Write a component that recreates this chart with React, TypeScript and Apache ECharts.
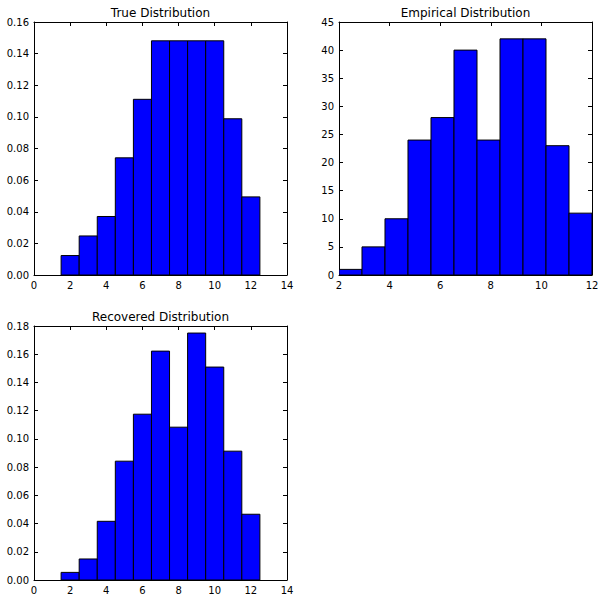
import React, { useEffect, useRef } from "react";
import * as echarts from "echarts";

// True distribution: bins centred on 2..12, width 1
const trueCenters = [2, 3, 4, 5, 6, 7, 8, 9, 10, 11, 12];
const trueValues = [0.0123, 0.0247, 0.037, 0.0741, 0.1111, 0.1481, 0.1481, 0.1481, 0.1481, 0.0988, 0.0494];

// Empirical distribution: 11 bins between 2 and 12
const empiricalEdges = [2, 2.909, 3.818, 4.727, 5.636, 6.545, 7.455, 8.364, 9.273, 10.182, 11.091, 12];
const empiricalCounts = [1, 5, 10, 24, 28, 40, 24, 42, 42, 23, 11];

// Recovered distribution: bins centred on 2..12, width 1
const recoveredCenters = [2, 3, 4, 5, 6, 7, 8, 9, 10, 11, 12];
const recoveredValues = [0.0054, 0.0149, 0.0416, 0.0842, 0.1175, 0.1622, 0.1083, 0.175, 0.1509, 0.0913, 0.0466];

const titles = ["True Distribution", "Empirical Distribution", "Recovered Distribution"];

const FONT = "DejaVu Sans";

function centeredBins(centers: number[], values: number[]) {
  return centers.map((c, i) => [c - 0.5, c + 0.5, values[i]]);
}
function edgeBins(edges: number[], values: number[]) {
  return values.map((v, i) => [edges[i], edges[i + 1], v]);
}

const renderBar = (params: any, api: any) => {
  const x0 = api.value(0);
  const x1 = api.value(1);
  const v = api.value(2);
  const p0 = api.coord([x0, v]);
  const p1 = api.coord([x1, 0]);
  return {
    type: "rect",
    shape: { x: p0[0], y: p0[1], width: p1[0] - p0[0], height: p1[1] - p0[1] },
    style: { fill: "#0000ff", stroke: "#000000", lineWidth: 1 },
  };
};

export default function App() {
  const ref = useRef<HTMLDivElement>(null);
  useEffect(() => {
    if (!ref.current) return;
    const chart = echarts.init(ref.current, undefined, { renderer: "svg" });

    const grids = [
      { left: 34, top: 22, width: 253, height: 253 },
      { left: 339, top: 22, width: 253, height: 253 },
      { left: 34, top: 326, width: 253, height: 254 },
    ];
    const xRanges = [
      { min: 0, max: 14, interval: 2 },
      { min: 2, max: 12, interval: 2 },
      { min: 0, max: 14, interval: 2 },
    ];
    const yRanges = [
      { min: 0, max: 0.16, interval: 0.02, fmt: (v: number) => v.toFixed(2) },
      { min: 0, max: 45, interval: 5, fmt: (v: number) => String(Math.round(v)) },
      { min: 0, max: 0.18, interval: 0.02, fmt: (v: number) => v.toFixed(2) },
    ];

    const xAxis: any[] = [];
    const yAxis: any[] = [];
    grids.forEach((g, i) => {
      const common = {
        type: "value",
        gridIndex: i,
        splitLine: { show: false },
        axisLine: { show: true, onZero: false, lineStyle: { color: "#000", width: 1 } },
        axisTick: { show: true, inside: true, length: 4, lineStyle: { color: "#000", width: 1 } },
      };
      const xr = xRanges[i];
      xAxis.push({
        ...common,
        position: "bottom",
        min: xr.min,
        max: xr.max,
        interval: xr.interval,
        axisLabel: { show: true, margin: 5, fontSize: 10, fontFamily: FONT, color: "#000", showMinLabel: true, showMaxLabel: true },
      });
      xAxis.push({
        ...common,
        position: "top",
        min: xr.min,
        max: xr.max,
        interval: xr.interval,
        axisLabel: { show: false },
      });
      const yr = yRanges[i];
      yAxis.push({
        ...common,
        position: "left",
        min: yr.min,
        max: yr.max,
        interval: yr.interval,
        axisLabel: { show: true, margin: 5, fontSize: 10, fontFamily: FONT, color: "#000", formatter: yr.fmt, showMinLabel: true, showMaxLabel: true },
      });
      yAxis.push({
        ...common,
        position: "right",
        min: yr.min,
        max: yr.max,
        interval: yr.interval,
        axisLabel: { show: false },
      });
    });

    const datasets = [
      centeredBins(trueCenters, trueValues),
      edgeBins(empiricalEdges, empiricalCounts),
      centeredBins(recoveredCenters, recoveredValues),
    ];

    const series = datasets.map((d, i) => ({
      type: "custom",
      xAxisIndex: i * 2,
      yAxisIndex: i * 2,
      data: d,
      encode: { x: [0, 1], y: 2 },
      renderItem: renderBar,
      clip: true,
    }));

    const graphic = grids.map((g, i) => ({
      type: "text",
      x: g.left + g.width / 2,
      y: g.top - 9.5,
      style: {
        text: titles[i],
        fontSize: 12,
        fontFamily: FONT,
        fill: "#000",
        textAlign: "center",
        textVerticalAlign: "middle",
      },
    }));

    chart.setOption({
      animation: false,
      backgroundColor: "#ffffff",
      grid: grids,
      xAxis,
      yAxis,
      series,
      graphic,
    });
    return () => chart.dispose();
  }, []);

  return (
    <div
      ref={ref}
      style={{ position: "fixed", left: 0, top: 0, width: 605, height: 601 }}
    />
  );
}
